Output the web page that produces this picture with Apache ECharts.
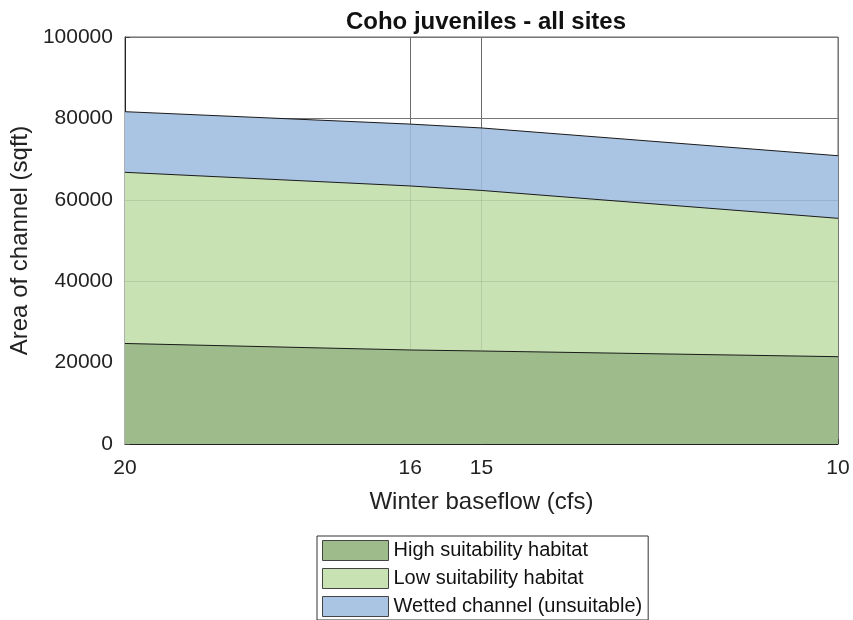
<!DOCTYPE html>
<html>
<head>
<meta charset="utf-8">
<script src="https://cdn.jsdelivr.net/npm/echarts@6/dist/echarts.min.js"></script>
<style>html,body{margin:0;padding:0;background:#fff;}#c{width:853px;height:620px;}</style>
</head>
<body>
<div id="c"></div>
<script>
// Winter baseflow (cfs)
var flow = [20, 16, 15, 10];
// cumulative top of each band (sqft)
var highTop = [24700, 23100, 22850, 21450];
var lowTop = [66750, 63400, 62300, 55450];
var wettedTop = [81650, 78600, 77650, 70830];
var xTicks = [20, 16, 15, 10];
var yTicks = [0, 20000, 40000, 60000, 80000, 100000];
var seriesNames = ['High suitability habitat', 'Low suitability habitat', 'Wetted channel (unsuitable)'];
var colors = ['rgb(158,188,139)', 'rgb(200,226,180)', 'rgb(170,196,228)'];

function pairs(vals){ return flow.map(function(f,i){ return [f, vals[i]]; }); }

var font = 'Liberation Sans, Arial, sans-serif';
var chart = echarts.init(document.getElementById('c'));
var tops = [highTop, lowTop, wettedTop];
var series = tops.map(function(b, i){
  return {
    name: seriesNames[i], type: 'line', data: pairs(b),
    symbol: 'none', smooth: false, z: 5 - i,
    lineStyle: {color: '#1a1a1a', width: 1},
    itemStyle: {color: colors[i], borderColor: '#444', borderWidth: 1},
    areaStyle: {color: colors[i], opacity: 1},
    emphasis: {disabled: true}
  };
});
// faint grid overlay on top of the fills
var gridLines = xTicks.slice(1, 3).map(function(v){ return {xAxis: v}; })
  .concat(yTicks.slice(1, 4).map(function(v){ return {yAxis: v}; }));
series[0].markLine = {
  silent: true, symbol: 'none', label: {show: false},
  lineStyle: {color: 'rgba(0,0,0,0.09)', width: 1, type: 'solid'},
  data: gridLines
};
chart.setOption({
  animation: false,
  title: {text: 'Coho juveniles - all sites', left: 481, textAlign: 'center', top: 5,
    textStyle: {fontFamily: font, fontSize: 24, fontWeight: 'bold', color: '#111'}},
  grid: {left: 124, right: 15, top: 37, bottom: 176, show: true, borderColor: '#666', borderWidth: 1},
  legend: {
    orient: 'vertical', left: 317, top: 536, itemWidth: 66, itemHeight: 20, itemGap: 7,
    padding: [4, 6, 3, 5], borderColor: '#333', borderWidth: 1,
    icon: 'rect',
    textStyle: {fontFamily: font, fontSize: 20, color: '#111'},
    data: seriesNames.map(function(n){ return {name: n, itemStyle: {borderColor: '#444', borderWidth: 1}}; })
  },
  xAxis: {
    type: 'value', min: 10, max: 20, inverse: true,
    name: 'Winter baseflow (cfs)', nameLocation: 'middle', nameGap: 46,
    nameTextStyle: {fontFamily: font, fontSize: 24, color: '#222'},
    axisLine: {lineStyle: {color: '#222'}},
    axisTick: {show: true, inside: true, length: 5, customValues: xTicks, lineStyle: {color: '#444'}},
    axisLabel: {customValues: xTicks, fontFamily: font, fontSize: 21, color: '#222', margin: 14},
    splitLine: {show: true, lineStyle: {color: '#777', width: 1}}
  },
  yAxis: {
    type: 'value', min: 0, max: 100000, interval: 20000,
    name: 'Area of channel (sqft)', nameLocation: 'middle', nameGap: 80,
    nameTextStyle: {fontFamily: font, fontSize: 24, color: '#222'},
    axisLine: {show: true, lineStyle: {color: '#222'}},
    axisTick: {show: true, inside: true, length: 5, lineStyle: {color: '#444'}},
    axisLabel: {fontFamily: font, fontSize: 21, color: '#222', margin: 12,
      formatter: function(v){ return String(v); }},
    splitLine: {show: true, lineStyle: {color: '#777', width: 1}}
  },
  series: series
});
</script>
</body>
</html>
